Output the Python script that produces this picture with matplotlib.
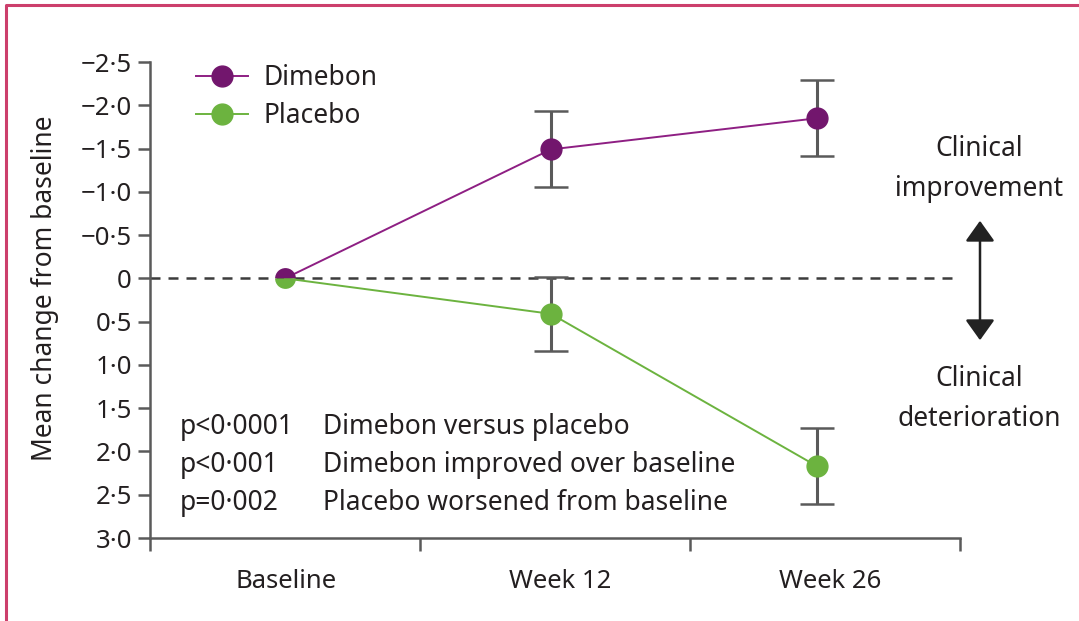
import matplotlib
matplotlib.use("Agg")
import matplotlib.pyplot as plt
from matplotlib.lines import Line2D
from matplotlib.patches import FancyArrowPatch

plt.rcParams['font.family'] = ['Noto Sans', 'DejaVu Sans']

# Data
categories = ["Baseline", "Week 12", "Week 26"]
dimebon_mean = [0.0, -1.49, -1.85]
dimebon_err = [0.0, 0.44, 0.44]
placebo_mean = [0.0, 0.41, 2.17]
placebo_err = [0.0, 0.43, 0.44]
ytick_values = [-2.5, -2.0, -1.5, -1.0, -0.5, 0, 0.5, 1.0, 1.5, 2.0, 2.5, 3.0]
ytick_labels = ["\u22122\u00b75", "\u22122\u00b70", "\u22121\u00b75", "\u22121\u00b70", "\u22120\u00b75", "0",
                "0\u00b75", "1\u00b70", "1\u00b75", "2\u00b70", "2\u00b75", "3\u00b70"]
pvalue_rows = [("p<0\u00b70001", "Dimebon versus placebo"),
               ("p<0\u00b7001", "Dimebon improved over baseline"),
               ("p=0\u00b7002", "Placebo worsened from baseline")]

PURPLE = "#72166d"
PURPLE_LINE = "#8e1f83"
GREEN = "#6cb33f"
GREY = "#5a5a5a"
TEXT = "#231f20"
FS = 19

fig = plt.figure(figsize=(10.79, 6.21), dpi=100)
ax = fig.add_axes([150 / 1079, 1 - 538 / 621, 810 / 1079, 476 / 621])

# time points sit inside three equal category bands on the x axis
x_points = [0.5, 1.485, 2.47]
x_labels = [0.505, 1.52, 2.52]

# zero reference line
ax.axhline(0, color="#3c3c3c", lw=1.8, ls=(0, (4, 3.2)), zorder=1)

for mean, err, col, lcol in [(dimebon_mean, dimebon_err, PURPLE, PURPLE_LINE),
                             (placebo_mean, placebo_err, GREEN, GREEN)]:
    ax.plot(x_points, mean, color=lcol, lw=1.4, zorder=2)
    ax.errorbar(x_points[1:], mean[1:], yerr=err[1:], fmt="none", ecolor=GREY,
                elinewidth=2.2, capsize=12, capthick=1.8, zorder=3)
    ax.plot(x_points[1:], mean[1:], "o", color=col, ms=15, mec=col, zorder=4)

# baseline point shared by both groups: split marker
ax.plot([x_points[0]], [dimebon_mean[0]], "o", ms=15, fillstyle="top",
        markerfacecolor=PURPLE, markerfacecoloralt=GREEN, mec="none", zorder=5)

ax.set_xlim(0, 3)
ax.set_ylim(3.0, -2.5)
ax.set_yticks(ytick_values)
ax.set_yticklabels(ytick_labels)
ax.set_xticks([0, 1, 2, 3])
ax.set_xticklabels([])
ax.set_xticks(x_labels, minor=True)
ax.set_xticklabels(categories, minor=True)
ax.tick_params(axis="x", which="minor", length=0, pad=22)
ax.tick_params(axis="x", which="major", length=9, width=1.8, color=GREY, direction="out")
ax.tick_params(axis="y", length=9, width=1.8, color=GREY, direction="out", pad=4)
ax.tick_params(which="both", labelsize=18.5, labelcolor=TEXT)
for s in ["top", "right"]:
    ax.spines[s].set_visible(False)
for s in ["left", "bottom"]:
    ax.spines[s].set_color(GREY)
    ax.spines[s].set_linewidth(1.8)

fig.text(45 / 1079, 1 - 288 / 621, "Mean change from baseline", rotation=90,
         ha="center", va="center", fontsize=FS, color=TEXT)

# legend
handles = [Line2D([], [], color=PURPLE_LINE, lw=1.4, marker="o", ms=15, mfc=PURPLE, mec=PURPLE),
           Line2D([], [], color=GREEN, lw=1.4, marker="o", ms=15, mfc=GREEN, mec=GREEN)]
ax.legend(handles, ["Dimebon", "Placebo"], loc="upper left", bbox_to_anchor=(0.028, 1.045),
          frameon=False, fontsize=FS, handlelength=1.95, labelspacing=0.38, handletextpad=0.6,
          labelcolor=TEXT)

# p-value notes
for i, (p, desc) in enumerate(pvalue_rows):
    yy = 1 - (427 + 38 * i) / 621
    fig.text(180 / 1079, yy, p, ha="left", va="center", fontsize=FS, color=TEXT)
    fig.text(323 / 1079, yy, desc, ha="left", va="center", fontsize=FS, color=TEXT)

# direction arrow at right
fig.text(979 / 1079, 1 - 169 / 621, "Clinical\nimprovement", ha="center", va="center",
         fontsize=FS, color=TEXT, linespacing=1.55)
fig.text(979 / 1079, 1 - 399 / 621, "Clinical\ndeterioration", ha="center", va="center",
         fontsize=FS, color=TEXT, linespacing=1.55)
fig.patches.append(FancyArrowPatch(
    (980 / 1079, 1 - 343 / 621), (980 / 1079, 1 - 218 / 621), transform=fig.transFigure,
    arrowstyle="<|-|>,head_length=7,head_width=5", color="#222222", lw=1.8, mutation_scale=1.8))

# figure border (top and left edges)
fig.add_artist(Line2D([6 / 1079, 6 / 1079, 1], [0, 1 - 5 / 621, 1 - 5 / 621],
                      transform=fig.transFigure, color="#cc3f6c", lw=2.2))

fig.savefig("out.png", dpi=100)
